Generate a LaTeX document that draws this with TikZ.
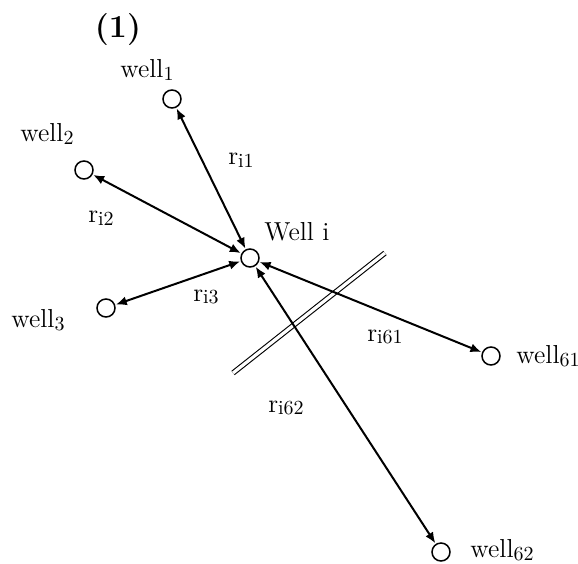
\documentclass[tikz,border=0pt]{standalone}
\usepackage{tikz}
\usetikzlibrary{arrows.meta,positioning}
\newcommand{\lowsub}[1]{\raisebox{-0.25ex}{\normalsize #1}}

\begin{document}
\begin{tikzpicture}[
    x=0.5pt, y=-0.5pt,
    well/.style={draw, circle, line width=0.75pt, minimum size=9pt, inner sep=0pt},
    lbl/.style={font=\fontsize{13}{15}\selectfont, inner sep=0pt},
    dist/.style={line width=1pt, {Latex[length=5.5pt,width=4.5pt]}-{Latex[length=5.5pt,width=4.5pt]}, shorten <=0.3pt, shorten >=0.3pt}
]
\useasboundingbox (0,0) rectangle (578,563);

% wells
\node[well] (wi) at (250,258) {};
\node[well] (w1) at (172,99) {};
\node[well] (w2) at (84,170) {};
\node[well] (w3) at (106,308) {};
\node[well] (w61) at (491,356) {};
\node[well] (w62) at (441,552) {};

% well names
\node[lbl, font=\fontsize{16}{18}\selectfont] at (118,30) {\textbf{(1)}};
\node[lbl] (ni) at (297,232) {Well i};
\node[lbl] (n1) at (147,70) {well\lowsub{1}};
\node[lbl] (n2) at (47,134) {well\lowsub{2}};
\node[lbl] (n3) at (38,320) {well\lowsub{3}};
\node[lbl] (n61) at (548,356) {well\lowsub{61}};
\node[lbl] (n62) at (502,550) {well\lowsub{62}};

% fault
\coordinate (fa) at (233,373);
\coordinate (fb) at (385,253);
\draw[double, double distance=1.6pt, line width=0.55pt] (fa) -- (fb);

% distances
\draw[dist] (w1) -- (wi);
\draw[dist] (w2) -- (wi);
\draw[dist] (w3) -- (wi);
\draw[dist] (w61) -- (wi);
\draw[dist] (w62) -- (wi);

\node[lbl] at (241,160) {r\lowsub{i1}};
\node[lbl] at (101,218) {r\lowsub{i2}};
\node[lbl] at (206,297) {r\lowsub{i3}};
\node[lbl] at (385,337) {r\lowsub{i61}};
\node[lbl] at (286,408) {r\lowsub{i62}};
\end{tikzpicture}
\end{document}
